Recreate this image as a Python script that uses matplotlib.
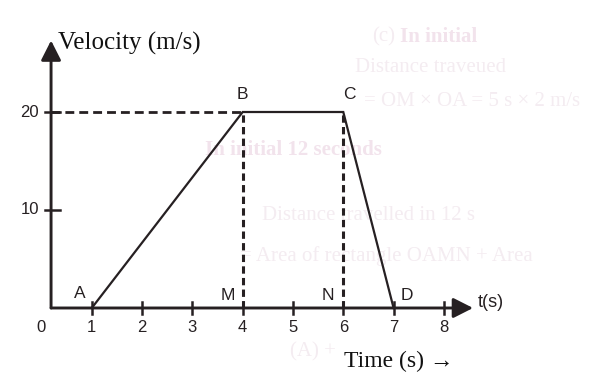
import matplotlib
matplotlib.use("Agg")
import matplotlib.pyplot as plt
from matplotlib.patches import Rectangle

# velocity-time graph: A -> B -> C -> D
t_points = [1, 4, 6, 7]
v_points = [0, 20, 20, 0]
point_labels = ["A", "B", "C", "D"]
foot_t = [4, 6]
foot_labels = ["M", "N"]
x_ticks = [1, 2, 3, 4, 5, 6, 7, 8]
x_tick_labels = ["0", "1", "2", "3", "4", "5", "6", "7", "8"]
y_ticks = [10, 20]
y_tick_labels = ["10", "20"]

INK = "#262022"
SANS = ["Liberation Sans", "DejaVu Sans"]
SERIF = ["Liberation Serif", "DejaVu Serif"]

fig = plt.figure(figsize=(5.9, 3.76), dpi=100)
ax = fig.add_axes([0, 0, 1, 1])
ax.set_xlim(-0.825, 10.905)
ax.set_ylim(-6.94, 31.43)
ax.axis("off")

# faint print showing through from the other side of the page
ghost = "#f4ecf1"
ghost_b = "#f2e3ec"
gl = [
    ("(c)", 372, 37, False),
    ("In initial", 400, 37, True),
    ("Distance traveued in 5 s", 355, 68, False),
    ("= OM × OA = 5 s × 2 m/s", 364, 102, False),
    ("In initial 12 seconds", 205, 150, True),
    ("Distance travelled in 12 s", 262, 215, False),
    ("= Area of rectangle OAMN + Area", 240, 256, False),
    ("(A) +", 290, 352, False),
]
for s, px, py, bold in gl:
    ax.text(px / 590, 1 - py / 376, s, fontsize=15, family=SERIF,
            color=ghost_b if bold else ghost,
            fontweight="bold" if bold else "normal",
            va="center", ha="left", transform=fig.transFigure, zorder=0.5)

# white paste-over patches behind the labels
for x0, y0, x1, y1 in [(507, 22, 590, 84), (55, 24, 215, 60), (340, 342, 567, 376)]:
    ax.add_patch(Rectangle((x0 / 590, 1 - y1 / 376), (x1 - x0) / 590,
                           (y1 - y0) / 376, transform=fig.transFigure,
                           facecolor="white", edgecolor="none", zorder=1))

axis_x = 0.19
y_tip = 27.3
x_tip = 8.58

# axes with arrow heads
for start, end in [((axis_x, 0), (axis_x, y_tip)), ((axis_x, 0), (x_tip, 0))]:
    ax.annotate("", xy=end, xytext=start,
                arrowprops=dict(arrowstyle="-|>,head_length=0.75,head_width=0.38",
                                lw=2.1, color=INK, shrinkA=0, shrinkB=0,
                                mutation_scale=16), zorder=3)

# ticks
for t in x_ticks:
    ax.plot([t, t], [-0.6, 0.6], color=INK, lw=1.8, zorder=3)
for v in y_ticks:
    ax.plot([axis_x - 0.12, axis_x + 0.18], [v, v], color=INK, lw=1.8, zorder=3)

for i, s in enumerate(x_tick_labels):
    ax.text(i, -1.95, s, ha="center", va="center", fontsize=12,
            family=SANS, color=INK, zorder=4)
for v, s in zip(y_ticks, y_tick_labels):
    ax.text(-0.05, v, s, ha="right", va="center", fontsize=12,
            family=SANS, color=INK, zorder=4)

# dashed guide lines
ax.plot([axis_x, t_points[1]], [v_points[1], v_points[1]], color=INK, lw=2.0,
        ls=(0, (3.2, 1.8)), zorder=2)
for t, v in zip(t_points[1:3], v_points[1:3]):
    ax.plot([t, t], [0, v], color=INK, lw=2.2, ls=(0, (2.4, 1.4)), zorder=2)

# velocity curve
ax.plot(t_points, v_points, color=INK, lw=1.6, solid_joinstyle="miter", zorder=3)

# point labels
offsets = [(-0.23, 1.5), (0.0, 1.75), (0.13, 1.75), (0.27, 1.3)]
for (t, v), s, (dx, dy) in zip(zip(t_points, v_points), point_labels, offsets):
    ax.text(t + dx, v + dy, s, ha="center", va="center", fontsize=12.5,
            family=SANS, color=INK, zorder=4)
for t, s in zip(foot_t, foot_labels):
    ax.text(t - 0.3, 1.3, s, ha="center", va="center", fontsize=12.5,
            family=SANS, color=INK, zorder=4)

# axis titles
ax.text(0.33, 27.0, "Velocity (m/s)", ha="left", va="center", fontsize=18,
        family=SERIF, color="#111111", zorder=4)
ax.text(8.68, 0.6, "t(s)", ha="left", va="center", fontsize=13,
        family=SANS, color=INK, zorder=4)
ax.text(6.02, -5.5, "Time (s) →", ha="left", va="center", fontsize=17,
        family=SERIF, color="#111111", zorder=4)

fig.savefig("out.png", dpi=100)
